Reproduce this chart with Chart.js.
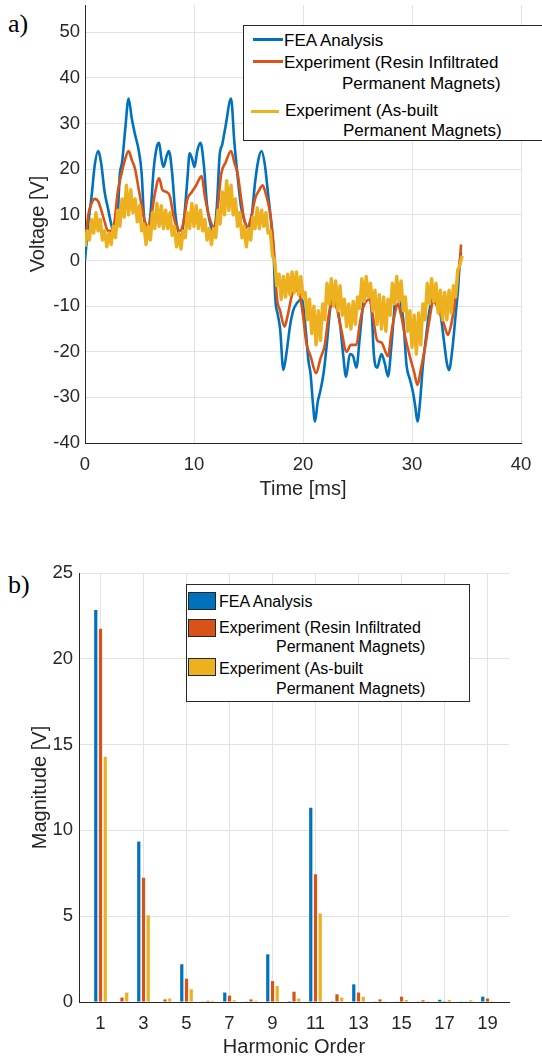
<!DOCTYPE html>
<html lang="en">
<head>
<meta charset="UTF-8">
<title>Back-EMF waveform and harmonics</title>
<script src="https://cdn.jsdelivr.net/npm/chart.js"></script>
<style>
  body {
    margin: 0;
    background: #fff;
    font-family: "Liberation Sans", Arial, sans-serif;
  }
  #page {
    position: relative;
    width: 542px;
    height: 1059px;
    overflow: hidden;
  }
  .panel { position: absolute; left: 0; }
  .tag {
    position: absolute;
    left: 8px;
    font-family: "Liberation Serif", "Times New Roman", serif;
    font-size: 26px;
    line-height: 30px;
    color: #000;
  }
  .legend {
    position: absolute;
    background: #fff;
    border: 1px solid #262626;
    color: #000;
  }
  .legend div { position: absolute; white-space: nowrap; line-height: 20px; }
  .legend .ln { height: 3px; }
  .legend .patch { border: 1px solid #262626; box-sizing: border-box; }
</style>
</head>
<body>
<div id="page">

<div class="tag" style="top:9px">a)</div>
<div class="panel" style="top:0"><canvas id="wave" width="542" height="510"></canvas></div>

<div class="legend" style="left:243px; top:25px; width:320px; height:114px; font-size:17px">
  <div class="ln" style="left:9px; top:12px; width:30px; background:#0072BD"></div>
  <div style="left:40px; top:5px">FEA Analysis</div>
  <div class="ln" style="left:9px; top:34px; width:30px; background:#D95319"></div>
  <div style="left:40px; top:27px">Experiment (Resin Infiltrated</div>
  <div style="left:98px; top:48px">Permanent Magnets)</div>
  <div class="ln" style="left:7px; top:84px; width:28px; background:#EDB120"></div>
  <div style="left:41px; top:75px">Experiment (As-built</div>
  <div style="left:99px; top:95px">Permanent Magnets)</div>
</div>

<div class="tag" style="top:570px">b)</div>
<div class="panel" style="top:530px"><canvas id="harm" width="542" height="529"></canvas></div>

<div class="legend" style="left:186px; top:584px; width:282px; height:116px; font-size:16px">
  <div class="patch" style="left:1px; top:7px; width:28px; height:18px; background:#0072BD"></div>
  <div style="left:32px; top:7px">FEA Analysis</div>
  <div class="patch" style="left:1px; top:34px; width:28px; height:18px; background:#D95319"></div>
  <div style="left:32px; top:33px">Experiment (Resin Infiltrated</div>
  <div style="left:89px; top:52px">Permanent Magnets)</div>
  <div class="patch" style="left:1px; top:73px; width:28px; height:18px; background:#EDB120"></div>
  <div style="left:32px; top:74px">Experiment (As-built</div>
  <div style="left:89px; top:94px">Permanent Magnets)</div>
</div>

</div>

<script>
// ---- a) voltage waveform, time in ms, voltage in V ----
const feaT = [0, 0.3, 0.6, 0.9, 1.2, 1.5, 1.8, 2.1, 2.4, 2.7, 3.0, 3.2, 3.4, 3.7, 4.0, 4.3, 4.6, 4.9, 5.2, 5.4,
  5.7, 6.0, 6.3, 6.6, 6.8, 7.0, 7.2, 7.5, 7.7, 8.0, 8.3, 8.6, 8.8, 9.1, 9.4, 9.6, 9.8, 10.05, 10.3, 10.6,
  10.9, 11.2, 11.5, 11.8, 12.1, 12.35, 12.6, 12.9, 13.4, 13.7, 14.0, 14.3, 14.6, 14.95, 15.3, 15.6, 15.9, 16.2, 16.5, 16.8,
  17.1, 17.3, 17.45, 17.7, 17.9, 18.2, 18.5, 18.8, 19.1, 19.4, 19.9, 20.2, 20.5, 20.7, 20.9, 21.1, 21.35, 21.6, 21.9, 22.2,
  22.5, 22.8, 23.1, 23.4, 23.7, 23.95, 24.3, 24.6, 24.9, 25.2, 25.5, 25.8, 26.1, 26.3, 26.5, 26.8, 27.2, 27.5, 27.8, 28.1,
  28.3, 28.6, 28.9, 29.2, 29.5, 29.8, 30.1, 30.3, 30.5, 30.7, 31.0, 31.3, 31.6, 31.95, 32.3, 32.6, 32.9, 33.2, 33.4, 33.7,
  34.0, 34.2, 34.4, 34.5];
const feaV = [0, 8, 14, 21, 24, 21, 15, 11.5, 8, 5.5, 10, 19, 21.5, 29, 35.5, 31, 27.5, 24.5, 19, 10,
  5.5, 10, 20, 25, 25.8, 22.5, 20.5, 23, 24, 19, 10, 6, 5.5, 9.5, 18, 23.5, 22.5, 20.5, 24, 25.8,
  21, 12, 8, 6, 12, 23, 25.5, 29.5, 35.5, 26, 18.5, 12, 9, 7, 10, 17, 22, 24, 21, 14.5,
  8, 2, -8, -12, -15, -24, -20, -14.5, -11, -9.5, -8.5, -14, -22, -25, -31, -35.3, -31, -28.5, -24.5, -18,
  -10.5, -8.5, -10, -14, -21, -25.5, -20.5, -21, -23.5, -17, -10, -7, -6, -11, -20.5, -23.5, -20.5, -22.5, -25.4, -19,
  -13, -6, -8.5, -13, -23, -26, -29, -32, -35.3, -32, -23, -16.5, -11, -7.5, -9.5, -11.5, -17, -22.5, -24, -19.5,
  -12, -7, 0, 1.8];

const resinT = [0, 0.3, 0.6, 0.9, 1.2, 1.5, 1.8, 2.1, 2.4, 2.7, 3.0, 3.3, 3.6, 4.0, 4.3, 4.6, 4.9, 5.2, 5.5, 5.8,
  6.1, 6.4, 6.8, 7.1, 7.5, 7.8, 8.1, 8.4, 8.7, 9.0, 9.4, 9.8, 10.2, 10.7, 11.0, 11.4, 11.8, 12.1, 12.5, 12.9,
  13.4, 13.7, 14.0, 14.3, 14.6, 14.9, 15.3, 15.6, 16.0, 16.3, 16.6, 16.9, 17.2, 17.4, 17.6, 17.9, 18.3, 18.6, 19.0, 19.4,
  19.7, 20.0, 20.3, 20.7, 21.2, 21.6, 22.0, 22.3, 22.6, 23.1, 23.5, 24.0, 24.4, 24.9, 25.2, 25.5, 26.1, 26.4, 26.8, 27.2,
  27.8, 28.1, 28.4, 28.7, 29.0, 29.4, 29.8, 30.2, 30.5, 30.8, 31.2, 31.6, 31.95, 32.3, 32.6, 33.0, 33.3, 33.6, 33.9, 34.2,
  34.4, 34.5];
const resinV = [3, 10, 12.5, 13.5, 13, 11, 8.5, 6.5, 6.5, 8.5, 15, 18.5, 21.5, 24, 22, 20, 16, 12, 8.5, 7.5,
  10, 14.5, 18, 15.5, 15, 14, 10, 7.5, 6.5, 8, 13.5, 15, 16.5, 18.5, 14, 9.5, 7.5, 10, 19, 21.5,
  24, 21.5, 19, 14, 9, 7.5, 10, 13.5, 15.5, 16.5, 14.5, 11.5, 6, 0, -8, -11, -14.5, -12, -7.5, -6.5,
  -7.5, -12, -18, -21, -24.7, -21.5, -18.5, -13, -9.3, -10.5, -15, -20, -18.5, -18.5, -14, -10.5, -8.5, -12, -17.5, -18,
  -21, -16, -12, -9.5, -12, -17, -21, -24.5, -27.3, -24, -19, -13, -8.9, -10, -11.5, -14.5, -16.3, -14, -9.7, -4,
  0, 3.5];

// as-built magnet measurement, sampled every 0.2 ms (noisy trace)
const asbuiltStepMs = 0.2;
const asbuiltV = [3, 6.5, 4.5, 9, 6, 10.5, 6.5, 9, 4.5, 6.5, 3, 6, 3.5, 7.5, 5, 11, 7.5, 13.5, 9.5, 16.5,
  10, 15.5, 10.5, 13.5, 8.5, 12, 6.5, 8, 3.5, 7.5, 4.5, 10.5, 7, 12.5, 7.5, 12, 7, 11, 7, 10.5,
  5.5, 7.5, 3, 6, 2.5, 6.5, 5, 10.5, 7, 12.5, 7.5, 12, 7, 11, 6.5, 9, 4.5, 7, 3.5, 7,
  5, 11, 8, 15, 10, 17.5, 11, 16.5, 10, 13.5, 7.5, 10.5, 5, 7.5, 3, 7, 4.5, 9.5, 7, 11.5,
  7, 11, 7.5, 10.5, 6, 6.5, 1, 0, -5.5, -3, -8.5, -3.5, -8, -3, -7.5, -2.5, -7, -2.5, -7.5, -3.5,
  -8, -7, -13, -8.5, -16, -10, -18.5, -11, -17.5, -9.5, -13, -5, -9.5, -4, -10, -4.5, -11, -5.5, -12, -8.5,
  -14.5, -9.5, -15, -9, -14, -8, -10.5, -4, -9, -3.5, -8, -5, -11, -6.5, -14, -7.5, -15, -8, -15.5, -8.5,
  -12, -5, -9.5, -3.5, -9, -4.5, -11, -8, -15.5, -11, -19, -12, -20.5, -11.5, -18.5, -9.5, -13, -5, -9.5, -4,
  -9, -5, -11.5, -6.5, -13, -7, -13, -6.5, -11.5, -5.5, -8, -2, -1, 1];

const timeTicks = [0, 10, 20, 30, 40];
const voltTicks = [-40, -30, -20, -10, 0, 10, 20, 30, 40, 50];

// ---- b) harmonic magnitudes in V ----
const harmonicOrder = [1, 2, 3, 4, 5, 6, 7, 8, 9, 10, 11, 12, 13, 14, 15, 16, 17, 18, 19];
const feaMag = [22.85, 0.03, 9.35, 0.03, 2.2, 0.02, 0.55, 0.02, 2.78, 0.05, 11.32, 0.05, 1.03, 0.02, 0.02, 0.02, 0.13, 0.02, 0.31];
const resinMag = [21.75, 0.26, 7.24, 0.15, 1.36, 0.07, 0.37, 0.15, 1.22, 0.6, 7.44, 0.45, 0.55, 0.15, 0.31, 0.1, 0.05, 0.04, 0.2];
const asbuiltMag = [14.29, 0.55, 5.05, 0.2, 0.74, 0.07, 0.1, 0.07, 0.93, 0.2, 5.15, 0.26, 0.31, 0.02, 0.12, 0.05, 0.12, 0.1, 0.05];
const orderTicks = [1, 3, 5, 7, 9, 11, 13, 15, 17, 19];
const magTicks = [0, 5, 10, 15, 20, 25];

const BLUE = '#0072BD', RED = '#D95319', YELLOW = '#EDB120';
const AXIS = '#262626', GRID = '#e2e2e2';
const FONT = '"Liberation Sans", Arial, sans-serif';

function pts(xs, ys) {
  return xs.map((x, i) => ({ x: x, y: ys[i] }));
}

// pin the plot box: fixed axis sizes, no label overhang padding
function fixAxis(size) {
  return function (s) {
    if (s.isHorizontal()) s.height = size; else s.width = size;
    s.paddingLeft = 0; s.paddingRight = 0; s.paddingTop = 0; s.paddingBottom = 0;
  };
}
function useTicks(list) {
  return function (s) { s.ticks = list.map(v => ({ value: v })); };
}

const tickFont = { family: FONT, size: 18.5 };
const titleFont = { family: FONT, size: 20 };

new Chart(document.getElementById('wave'), {
  type: 'line',
  data: {
    datasets: [
      { label: 'FEA Analysis', data: pts(feaT, feaV), borderColor: BLUE,
        borderWidth: 2.6, cubicInterpolationMode: 'monotone', order: 3 },
      { label: 'Experiment (Resin Infiltrated Permanent Magnets)', data: pts(resinT, resinV), borderColor: RED,
        borderWidth: 2.6, cubicInterpolationMode: 'monotone', order: 2 },
      { label: 'Experiment (As-built Permanent Magnets)',
        data: asbuiltV.map((v, i) => ({ x: i * asbuiltStepMs, y: v })), borderColor: YELLOW,
        borderWidth: 3.4, tension: 0, order: 1 }
    ]
  },
  options: {
    responsive: false,
    animation: false,
    events: [],
    layout: { padding: { left: 0, right: 21, top: 5, bottom: 0 } },
    elements: { point: { radius: 0 }, line: { borderJoinStyle: 'round' } },
    plugins: { legend: { display: false }, tooltip: { enabled: false } },
    scales: {
      x: {
        type: 'linear', min: 0, max: 40,
        afterBuildTicks: useTicks(timeTicks),
        afterFit: fixAxis(67),
        grid: { color: GRID, drawTicks: false },
        border: { color: AXIS, width: 1 },
        ticks: { color: AXIS, font: tickFont, padding: 11, maxRotation: 0 },
        title: { display: true, text: 'Time [ms]', color: AXIS, font: titleFont, padding: { top: 0, bottom: 9 } }
      },
      y: {
        type: 'linear', min: -40, max: 56,
        afterBuildTicks: useTicks(voltTicks),
        afterFit: fixAxis(85),
        grid: { color: GRID, drawTicks: false },
        border: { color: AXIS, width: 1 },
        ticks: { color: AXIS, font: tickFont, padding: 5 },
        title: { display: true, text: 'Voltage [V]', color: AXIS, font: titleFont, padding: { top: 26, bottom: 0 } }
      }
    }
  }
});

new Chart(document.getElementById('harm'), {
  type: 'bar',
  data: {
    datasets: [
      { label: 'FEA Analysis', data: pts(harmonicOrder, feaMag), backgroundColor: BLUE },
      { label: 'Experiment (Resin Infiltrated Permanent Magnets)', data: pts(harmonicOrder, resinMag), backgroundColor: RED },
      { label: 'Experiment (As-built Permanent Magnets)', data: pts(harmonicOrder, asbuiltMag), backgroundColor: YELLOW }
    ]
  },
  options: {
    responsive: false,
    animation: false,
    events: [],
    layout: { padding: { left: 0, right: 33, top: 43, bottom: 0 } },
    datasets: { bar: { categoryPercentage: 0.66, barPercentage: 0.68, borderWidth: 0 } },
    plugins: { legend: { display: false }, tooltip: { enabled: false } },
    scales: {
      x: {
        type: 'linear', min: 0, max: 20, offset: false,
        afterBuildTicks: useTicks(orderTicks),
        afterFit: fixAxis(57),
        grid: { color: GRID, drawTicks: false, offset: false },
        border: { color: AXIS, width: 1 },
        ticks: { color: AXIS, font: tickFont, padding: 11, maxRotation: 0 },
        title: { display: true, text: 'Harmonic Order', color: AXIS, font: titleFont, padding: { top: 0, bottom: 0 } }
      },
      y: {
        type: 'linear', min: 0, max: 25,
        afterBuildTicks: useTicks(magTicks),
        afterFit: fixAxis(79),
        grid: { color: GRID, drawTicks: false },
        border: { color: AXIS, width: 1 },
        ticks: { color: AXIS, font: tickFont, padding: 6 },
        title: { display: true, text: 'Magnitude [V]', color: AXIS, font: titleFont, padding: { top: 28, bottom: 0 } }
      }
    }
  }
});
</script>
</body>
</html>
